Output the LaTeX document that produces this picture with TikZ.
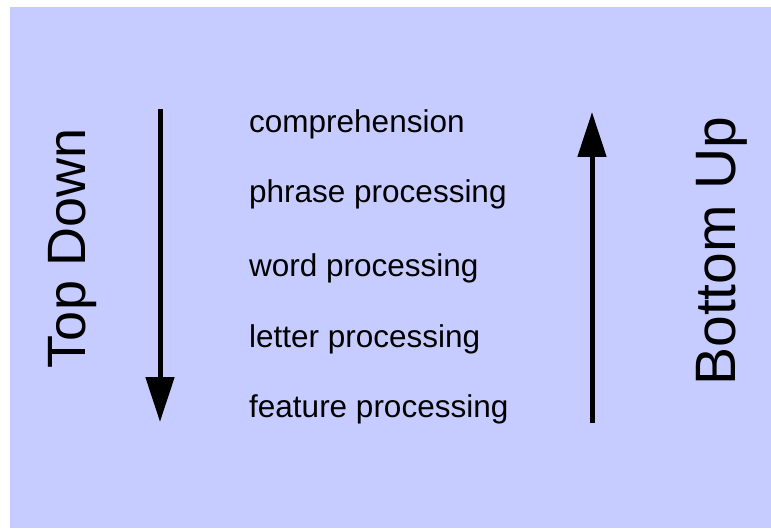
\documentclass[tikz,border=0pt]{standalone}
\usepackage{fontspec}
\setmainfont{Liberation Sans}
\usetikzlibrary{arrows.meta}
\definecolor{bgblue}{RGB}{198,204,255}
\begin{document}
\begin{tikzpicture}[x=1pt,y=1pt,
  lbl/.style={anchor=base west,inner sep=0pt,font=\fontsize{31.5}{36}\selectfont},
  side/.style={anchor=base,inner sep=0pt,rotate=90},
  bigarrow/.style={line width=5pt,-{Triangle[length=45pt,width=28pt]}}]
\useasboundingbox (0,0) rectangle (771,528);
\fill[white] (0,0) rectangle (771,528);
\fill[bgblue] (10,0) rectangle (771,521);
\node[side,font=\fontsize{54}{60}\selectfont] (td) at (85,280) {Top Down};
\node[side,font=\fontsize{57}{64}\selectfont] (bu) at (735,277) {Bottom Up};
\node[lbl] (c) at (249,395) {comprehension};
\node[lbl] (p) at (249,325) {phrase processing};
\node[lbl] (w) at (249,251) {word processing};
\node[lbl] (l) at (249,181) {letter processing};
\node[lbl] (f) at (249,111) {feature processing};
\coordinate (dtop) at (160,419);
\coordinate (dbot) at (160,106);
\coordinate (ubot) at (592,105);
\coordinate (utop) at (592,416);
\draw[bigarrow] (dtop) -- (dbot);
\draw[bigarrow] (ubot) -- (utop);
\end{tikzpicture}
\end{document}
